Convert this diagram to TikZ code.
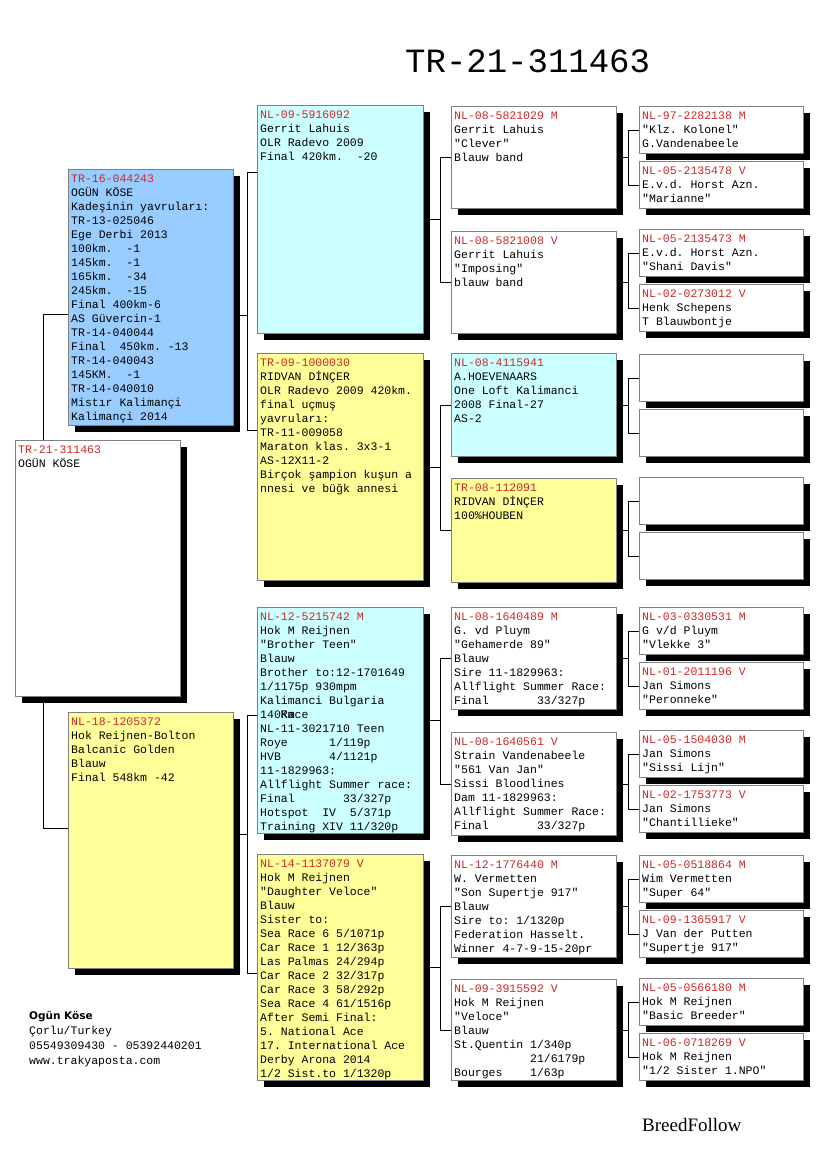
\documentclass[tikz,border=0pt]{standalone}
\usepackage{fontspec}
\setmonofont{Liberation Mono}
\newfontfamily\boldsans{DejaVu Sans}
\newfontfamily\brandfont{Liberation Serif}
\usetikzlibrary{shadows,calc}
\definecolor{idred}{RGB}{205,40,40}
\definecolor{sireblue}{RGB}{153,204,255}
\definecolor{pcyan}{RGB}{204,255,255}
\definecolor{pyellow}{RGB}{255,255,153}
\definecolor{pborder}{RGB}{128,128,128}
\tikzset{
  pbox/.style={draw=pborder, line width=1pt, fill=white, inner sep=0pt, anchor=north west,
     drop shadow={shadow xshift=6pt, shadow yshift=-6pt, opacity=1, fill=black}},
  ptext/.style={anchor=north west, inner sep=0pt, align=left, font=\ttfamily\fontsize{11.5}{14}\selectfont},
  link/.style={draw=black, line width=1pt},
  footmono/.style={anchor=base west, inner sep=0pt, font=\ttfamily\fontsize{11.5}{14}\selectfont},
}
\newcommand\pid[1]{\strut\textcolor{idred}{#1}}
\newcommand\pedbox[7]{%
  \node[pbox, fill=#6, minimum width=#4pt, minimum height=#5pt] (#1) at (#2,#3) {};
  \node[ptext] (#1-t) at ([xshift=3pt,yshift=-3.2pt]#1.north west) {#7};
}
\newcommand\gfour[4]{% name, top y, text a, text b
  \pedbox{#1a}{639}{#2}{164}{47}{white}{#3}
  \pedbox{#1b}{639}{#2+55}{164}{47}{white}{#4}
}
\begin{document}
\begin{tikzpicture}[x=1pt,y=-1pt]
\fill[white] (0,0) rectangle (825,1172);
\useasboundingbox (0,0) rectangle (825,1172);

\node[anchor=base west, inner sep=0pt, font=\ttfamily\fontsize{34}{40}\selectfont] (title) at (405,73) {TR-21-311463};

% generation 1
\pedbox{S}{15}{440}{165}{256}{white}{\pid{TR-21-311463}\\OGÜN KÖSE}
\pedbox{A}{68}{169}{165}{256}{sireblue}{\pid{TR-16-044243}\\OGÜN KÖSE\\Kadeşinin yavruları:\\TR-13-025046\\Ege Derbi 2013\\100km.~~-1\\145km.~~-1\\165km.~~-34\\245km.~~-15\\Final 400km-6\\AS Güvercin-1\\TR-14-040044\\Final~~450km. -13\\TR-14-040043\\145KM.~~-1\\TR-14-040010\\Mistır Kalimançi\\Kalimançi 2014}
\pedbox{B}{68}{712}{165}{256}{pyellow}{\pid{NL-18-1205372}\\Hok Reijnen-Bolton\\Balcanic Golden\\Blauw\\Final 548km -42}

% generation 2
\pedbox{AA}{257}{105}{166}{228}{pcyan}{\pid{NL-09-5916092}\\Gerrit Lahuis\\OLR Radevo 2009\\Final 420km.~~-20}
\pedbox{AB}{257}{353}{166}{227}{pyellow}{\pid{TR-09-1000030}\\RIDVAN DİNÇER\\OLR Radevo 2009 420km.\\final uçmuş\\yavruları:\\TR-11-009058\\Maraton klas. 3x3-1\\AS-12X11-2\\Birçok şampion kuşun a\\nnesi ve büğk annesi}
\pedbox{BA}{257}{607}{166}{226}{pcyan}{\pid{NL-12-5215742 M}\\Hok M Reijnen\\"Brother Teen"\\Blauw\\Brother to:12-1701649\\1/1175p 930mpm\\Kalimanci Bulgaria\\140\rlap{Km}Race\\NL-11-3021710 Teen\\Roye~~~~~~1/119p\\HVB~~~~~~~4/1121p\\11-1829963:\\Allflight Summer race:\\Final~~~~~~~33/327p\\Hotspot~~IV~~5/371p\\Training XIV 11/320p}
\pedbox{BB}{257}{854}{166}{226}{pyellow}{\pid{NL-14-1137079 V}\\Hok M Reijnen\\"Daughter Veloce"\\Blauw\\Sister to:\\Sea Race 6 5/1071p\\Car Race 1 12/363p\\Las Palmas 24/294p\\Car Race 2 32/317p\\Car Race 3 58/292p\\Sea Race 4 61/1516p\\After Semi Final:\\5. National Ace\\17. International Ace\\Derby Arona 2014\\1/2 Sist.to 1/1320p}

% generation 3
\pedbox{AAA}{451}{106}{165}{102}{white}{\pid{NL-08-5821029 M}\\Gerrit Lahuis\\"Clever"\\Blauw band}
\pedbox{AAB}{451}{231}{165}{102}{white}{\pid{NL-08-5821008 V}\\Gerrit Lahuis\\"Imposing"\\blauw band}
\pedbox{ABA}{451}{353}{165}{103}{pcyan}{\pid{NL-08-4115941}\\A.HOEVENAARS\\One Loft Kalimanci\\2008 Final-27\\AS-2}
\pedbox{ABB}{451}{478}{165}{104}{pyellow}{\pid{TR-08-112091}\\RIDVAN DİNÇER\\100\%HOUBEN}
\pedbox{BAA}{451}{607}{165}{102}{white}{\pid{NL-08-1640489 M}\\G. vd Pluym\\"Gehamerde 89"\\Blauw\\Sire 11-1829963:\\Allflight Summer Race:\\Final~~~~~~~33/327p}
\pedbox{BAB}{451}{732}{165}{103}{white}{\pid{NL-08-1640561 V}\\Strain Vandenabeele\\"561 Van Jan"\\Sissi Bloodlines\\Dam 11-1829963:\\Allflight Summer Race:\\Final~~~~~~~33/327p}
\pedbox{BBA}{451}{855}{165}{102}{white}{\pid{NL-12-1776440 M}\\W. Vermetten\\"Son Supertje 917"\\Blauw\\Sire to: 1/1320p\\Federation Hasselt.\\Winner 4-7-9-15-20pr}
\pedbox{BBB}{451}{979}{165}{101}{white}{\pid{NL-09-3915592 V}\\Hok M Reijnen\\"Veloce"\\Blauw\\St.Quentin 1/340p\\\hphantom{St.Quentin }21/6179p\\Bourges\hphantom{XXXX}1/63p}

% generation 4
\gfour{AAA}{106}{\pid{NL-97-2282138 M}\\"Klz. Kolonel"\\G.Vandenabeele}{\pid{NL-05-2135478 V}\\E.v.d. Horst Azn.\\"Marianne"}
\gfour{AAB}{229}{\pid{NL-05-2135473 M}\\E.v.d. Horst Azn.\\"Shani Davis"}{\pid{NL-02-0273012 V}\\Henk Schepens\\T Blauwbontje}
\gfour{ABA}{354}{}{}
\gfour{ABB}{477}{}{}
\gfour{BAA}{607}{\pid{NL-03-0330531 M}\\G v/d Pluym\\"Vlekke 3"}{\pid{NL-01-2011196 V}\\Jan Simons\\"Peronneke"}
\gfour{BAB}{730}{\pid{NL-05-1504030 M}\\Jan Simons\\"Sissi Lijn"}{\pid{NL-02-1753773 V}\\Jan Simons\\"Chantillieke"}
\gfour{BBA}{855}{\pid{NL-05-0518864 M}\\Wim Vermetten\\"Super 64"}{\pid{NL-09-1365917 V}\\J Van der Putten\\"Supertje 917"}
\gfour{BBB}{978}{\pid{NL-05-0566180 M}\\Hok M Reijnen\\"Basic Breeder"}{\pid{NL-06-0718269 V}\\Hok M Reijnen\\"1/2 Sister 1.NPO"}

% connectors
\coordinate (fA) at (247,0);
\coordinate (f2) at (440,0);
\coordinate (f3) at (628,0);

\draw[link] ([yshift=-17pt]A.west) -| ([xshift=28pt]S.north west);
\draw[link] ([xshift=28pt]S.south west) |- ([yshift=12pt]B.west);

\coordinate (Aout) at ([yshift=-18pt]A.east);
\coordinate (AAin) at ([yshift=47pt]AA.west);
\coordinate (ABin) at ([yshift=36.5pt]AB.west);
\draw[link] (Aout) -- (Aout -| fA);
\draw[link] (AAin) -- (AAin -| fA) -- (ABin -| fA) -- (ABin);

\coordinate (Bout) at ([yshift=6pt]B.east);
\coordinate (BAin) at ([yshift=5pt]BA.west);
\coordinate (BBin) at ([yshift=-6pt]BB.west);
\draw[link] (Bout) -- (Bout -| fA);
\draw[link] (BAin) -- (BAin -| fA) -- (BBin -| fA) -- (BBin);

\foreach \p in {AA,AB,BA,BB}{
  \draw[link] (\p.east) -- (\p.east -| f2);
  \draw[link] (\p A.west) -- (\p A.west -| f2) -- (\p B.west -| f2) -- (\p B.west);
}
\foreach \p in {AAA,AAB,ABA,ABB,BAA,BAB,BBA,BBB}{
  \draw[link] (\p.east) -- (\p.east -| f3);
  \draw[link] (\p a.west) -- (\p a.west -| f3) -- (\p b.west -| f3) -- (\p b.west);
}

% footer
\node[anchor=base west, inner sep=0pt, font=\boldsans\bfseries\fontsize{10.5}{12}\selectfont] (owner) at (29,1019) {Ogün Köse};
\node[footmono] (city) at (29,1034.5) {Çorlu/Turkey};
\node[footmono] (phone) at (29,1049.5) {05549309430 - 05392440201};
\node[footmono] (web) at (29,1064) {www.trakyaposta.com};
\node[anchor=base west, inner sep=0pt, font=\brandfont\fontsize{19}{22}\selectfont] (brand) at (642,1131) {BreedFollow};
\end{tikzpicture}
\end{document}
